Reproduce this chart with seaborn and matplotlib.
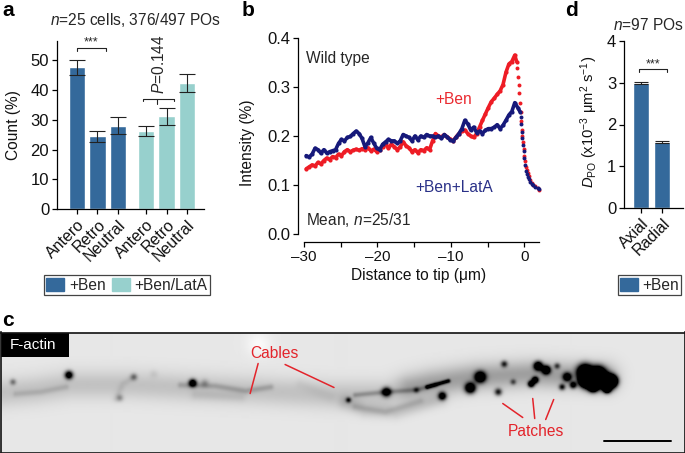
import numpy as np
import matplotlib
matplotlib.use('Agg')
import matplotlib.pyplot as plt
from matplotlib.lines import Line2D
from matplotlib.patches import Patch, Rectangle
import seaborn as sns

# panel a
comptes = [47.6, 24.5, 28.0, 26.3, 31.2, 42.3]
erreurs_comptes = [2.6, 1.8, 2.9, 1.6, 2.9, 3.1]
noms_a = ['Antero', 'Retro', 'Neutral', 'Antero', 'Retro', 'Neutral']

# panel b
x_rouge = [-29.7, -29.3, -28.9, -28.5, -28.1, -27.7, -27.3, -26.9, -26.5, -26.1, -25.7, -25.3, -24.9, -24.5, -24.1,
           -23.7, -23.3, -22.9, -22.5, -22.1, -21.7, -21.3, -20.9, -20.5, -20.1, -19.7, -19.3, -18.9, -18.5, -18.1,
           -17.7, -17.3, -16.9, -16.5, -16.1, -15.7, -15.3, -14.9, -14.5, -14.1, -13.7, -13.3, -12.9, -12.5, -12.1,
           -11.7, -11.3, -10.9, -10.5, -10.1, -9.7, -9.3, -8.9, -8.5, -8.1, -7.7, -7.3, -6.9, -6.5, -6.1,
           -5.7, -5.3, -4.9, -4.5, -4.1, -3.7, -3.3, -2.9, -2.5, -2.1, -1.7, -1.3, -1.05]
y_rouge = [.133, .137, .141, .139, .146, .143, .150, .155, .152, .158, .156, .163, .160, .168, .172,
           .168, .171, .173, .171, .174, .172, .176, .170, .173, .168, .172, .178, .183, .175, .183,
           .178, .172, .178, .188, .180, .176, .168, .172, .166, .172, .170, .176, .172, .190, .205,
           .200, .198, .203, .198, .194, .190, .198, .205, .210, .212, .205, .200, .197, .205, .218,
           .232, .245, .258, .270, .277, .285, .292, .305, .330, .347, .352, .365, .352]
x_bleu = [-29.7, -29.3, -28.9, -28.5, -28.1, -27.7, -27.3, -26.9, -26.5, -26.1, -25.7, -25.3, -24.9, -24.5, -24.1,
          -23.7, -23.3, -22.9, -22.5, -22.1, -21.7, -21.3, -20.9, -20.5, -20.1, -19.7, -19.3, -18.9, -18.5, -18.1,
          -17.7, -17.3, -16.9, -16.5, -16.1, -15.7, -15.3, -14.9, -14.5, -14.1, -13.7, -13.3, -12.9, -12.5, -12.1,
          -11.7, -11.3, -10.9, -10.5, -10.1, -9.7, -9.3, -8.9, -8.5, -8.1, -7.7, -7.3, -6.9, -6.5, -6.1,
          -5.7, -5.3, -4.9, -4.5, -4.1, -3.7, -3.3, -2.9, -2.5, -2.1, -1.7, -1.3, -0.9, -0.6]
y_bleu = [.160, .157, .163, .175, .172, .165, .172, .165, .168, .170, .172, .185, .193, .190, .197,
          .199, .205, .210, .205, .195, .178, .186, .197, .185, .175, .172, .183, .188, .193, .190,
          .190, .185, .190, .203, .200, .197, .190, .200, .192, .200, .197, .203, .200, .200, .197,
          .200, .195, .203, .198, .192, .190, .197, .205, .215, .232, .225, .212, .218, .207, .210,
          .205, .212, .215, .215, .218, .223, .215, .222, .232, .243, .250, .268, .258, .250]
# la descente vers la pointe, points bien separes
x_rouge_fin = [-1.0, -.86, -.77, -.68, -.58, -.5, -.42, -.34, -.26, -.18, -.1, 0, .1, .2, .3, .45, .6, .8, 1.0, 1.2, 1.5, 1.8, 2.0]
y_rouge_fin = [.339, .320, .304, .287, .267, .248, .230, .213, .200, .187, .174, .160, .148, .137, .130, .125, .118, .110, .105, .100, .097, .093, .090]
x_bleu_fin = [-.5, -.42, -.34, -.26, -.18, -.1, 0, .1, .2, .3, .45, .6, .8, 1.0, 1.2, 1.5, 1.8, 2.0]
y_bleu_fin = [.238, .225, .208, .195, .182, .170, .155, .140, .128, .122, .117, .112, .107, .103, .099, .096, .093, .091]

# panel d
coeffs = [2.99, 1.58]
erreurs_coeffs = [.03, .03]
noms_d = ['Axial', 'Radial']

# panel c : micrographie refaite en taches floues (x, y, sigma, force) en pixels de la figure
taches = [(12, 383, 2.2, .4), (68, 376, 2.8, 1.3), (133, 378, 2.4, .38), (119, 399, 2.4, .3), (192, 384, 2.6, 1.4),
          (204, 384, 2.8, .22), (153, 375, 3, .07), (348, 401, 1.9, .75), (386, 393, 3.1, 1.3), (416, 391, 2.0, .45),
          (442, 397, 2.7, 1.3), (470, 389, 3.5, 1.7), (480, 378, 3.7, 1.7), (504, 365, 2.3, .75), (513, 383, 2.0, .5),
          (498, 393, 2.5, .85), (538, 367, 3.0, 1.7), (546, 371, 2.9, 1.7), (531, 385, 2.2, 1.5), (535, 381, 2.2, 1.5),
          (557, 367, 2.1, .6), (567, 378, 3.0, 1.3), (562, 388, 2.2, .85), (573, 386, 2.4, 1.1), (585, 373, 5, 2.5),
          (593, 383, 5, 2.5), (598, 375, 5, 2.5), (607, 383, 5, 2.5), (612, 382, 3.5, 2.5), (607, 390, 2.5, 2),
          (585, 382, 4, 2.5), (593, 388, 3, 2), (258, 345, 9, -.08)]
# (points, sigma, force)
cables = [([(0, 394), (35, 391), (70, 386), (130, 386), (190, 389), (260, 392), (330, 396), (385, 396), (430, 384),
            (475, 378), (530, 375), (605, 378)], 10, .16),
          ([(410, 388), (475, 378), (530, 375), (605, 378)], 9, .15),
          ([(345, 403), (365, 411), (395, 413), (440, 400)], 5, .14),
          ([(15, 395), (40, 393), (65, 388)], 2.2, .10),
          ([(180, 386), (215, 387), (245, 392), (270, 388)], 2.2, .16),
          ([(195, 396), (240, 398)], 3.5, .07),
          ([(115, 400), (122, 385), (133, 378)], 2.4, .07),
          ([(300, 385), (330, 398)], 4, .04),
          ([(355, 396), (386, 393), (416, 391), (435, 386)], 1.9, .22),
          ([(427, 388), (448, 382)], 1.4, .9),
          ([(355, 408), (385, 413), (420, 402)], 2.4, .09)]

LARG, HAUT = 685, 453
BLEU = '#34699b'
TURQ = '#97d0cd'
ROUGE = '#ee1c25'
MARINE = '#16197a'
TAILLE = 11.2

sns.set_theme(style='ticks')
plt.rcParams['font.family'] = ['Liberation Sans', 'DejaVu Sans']
plt.rcParams['mathtext.fontset'] = 'custom'
plt.rcParams['mathtext.rm'] = 'Liberation Sans'
plt.rcParams['mathtext.it'] = 'Liberation Sans:italic'
plt.rcParams['mathtext.default'] = 'regular'
plt.rcParams['font.size'] = TAILLE

fig = plt.figure(figsize=(LARG / 100, HAUT / 100), dpi=100)


def cadre(gauche, droite, haut, bas):
    # axes places en pixels de l'image
    return fig.add_axes([gauche / LARG, 1 - bas / HAUT, (droite - gauche) / LARG, (bas - haut) / HAUT])


def texte(x, y, s, **kw):
    kw.setdefault('fontsize', TAILLE)
    kw.setdefault('ha', 'center')
    kw.setdefault('va', 'center')
    fig.text(x / LARG, 1 - y / HAUT, s, **kw)


def trait(xs, ys, couleur='#222222', lw=.8):
    fig.add_artist(Line2D([x / LARG for x in xs], [1 - y / HAUT for y in ys], color=couleur, lw=lw))


def habiller(ax):
    sns.despine(ax=ax)
    ax.tick_params(axis='both', which='both', length=3.6, width=.9, color='black', pad=2, labelcolor='#111111')
    ax.tick_params(axis='y', labelsize=12)
    ax.tick_params(axis='x', labelsize=11.5)
    for s in ['left', 'bottom']:
        ax.spines[s].set_linewidth(.9)
        ax.spines[s].set_color('black')
    ax.set_xlabel('')
    ax.set_ylabel('')


# --- a ---
ax_a = cadre(57, 204, 40.7, 209)
pos_a = [0, 1, 2, 3.37, 4.37, 5.37]
sns.barplot(x=pos_a, y=comptes, native_scale=True, hue=['a', 'a', 'a', 'b', 'b', 'b'], palette=[BLEU, TURQ],
            width=.81, dodge=False, saturation=1, legend=False, ax=ax_a)
ax_a.errorbar(pos_a, comptes, yerr=erreurs_comptes, fmt='none', ecolor='#222222', elinewidth=.8, capsize=5.8, capthick=.8)
ax_a.set_xlim(-.976, 6.2)
ax_a.set_ylim(0, 56.6)
ax_a.set_yticks([0, 10, 20, 30, 40, 50])
ax_a.set_xticks(pos_a)
ax_a.set_xticklabels(noms_a, rotation=45, ha='right', rotation_mode='anchor')
habiller(ax_a)
ax_a.set_ylabel('Count (%)', fontsize=TAILLE, color='#111111')
ax_a.yaxis.set_label_coords(-36 / 147, .5)

# --- b ---
ax_b = cadre(298, 539, 38, 234)
sns.lineplot(x=x_rouge, y=y_rouge, color=ROUGE, lw=2.6, marker='o', markersize=3, markeredgewidth=0, ax=ax_b, clip_on=False)
sns.scatterplot(x=x_rouge_fin, y=y_rouge_fin, color=ROUGE, s=8, linewidth=0, ax=ax_b, clip_on=False)
sns.lineplot(x=x_bleu, y=y_bleu, color=MARINE, lw=2.6, marker='o', markersize=3, markeredgewidth=0, ax=ax_b, clip_on=False)
sns.scatterplot(x=x_bleu_fin, y=y_bleu_fin, color=MARINE, s=8, linewidth=0, ax=ax_b, clip_on=False)
ax_b.set_xlim(-30.82, 2)
ax_b.set_ylim(0, .4)
ax_b.set_yticks([0, .1, .2, .3, .4])
ax_b.set_yticklabels(['0.0', '0.1', '0.2', '0.3', '0.4'])
ax_b.set_xticks([-30, -20, -10, 0])
ax_b.set_xticklabels(['–30', '–20', '–10', '0'])
ax_b.set_xticks([-25, -15, -5], minor=True)
habiller(ax_b)
ax_b.tick_params(axis='x', labelsize=11)
ax_b.spines['bottom'].set_position(('outward', 5.8))
ax_b.spines['bottom'].set_bounds(-30, 2)
ax_b.set_xlabel('Distance to tip (μm)', fontsize=TAILLE, color='#111111', labelpad=3)
ax_b.set_ylabel('Intensity (%)', fontsize=TAILLE, color='#111111')
ax_b.yaxis.set_label_coords(-43 / 241, (234 - 143) / 196)

# --- d ---
ax_d = cadre(624, 683, 41, 208)
pos_d = [0, 1]
sns.barplot(x=pos_d, y=coeffs, native_scale=True, color=BLEU, width=.78, saturation=1, ax=ax_d)
ax_d.errorbar(pos_d, coeffs, yerr=erreurs_coeffs, fmt='none', ecolor='#222222', elinewidth=.8, capsize=5, capthick=.8)
ax_d.set_xlim(-.81, 2)
ax_d.set_ylim(0, 4)
ax_d.set_yticks([0, 1, 2, 3, 4])
ax_d.set_xticks(pos_d)
ax_d.set_xticklabels(noms_d, rotation=45, ha='right', rotation_mode='anchor')
habiller(ax_d)
ax_d.set_ylabel(r'$\mathit{D}_{PO}$ (x10$^{-3}$ μm$^{2}$ s$^{-1}$)', fontsize=10.6, color='#111111')
ax_d.yaxis.set_label_coords(-24 / 59, (208 - 122) / 167)

# --- c ---
ax_c = cadre(0.5, 684.5, 332.5, 452.5)
yy, xx = np.mgrid[333:453, 0:685] + .5
sombre = np.zeros(xx.shape)
for x0, y0, sig, force in taches:
    sombre += force * np.exp(-((xx - x0) ** 2 + (yy - y0) ** 2) / (2 * sig ** 2))
for points, sig, force in cables:
    dist2 = np.full(xx.shape, np.inf)
    for (x1, y1), (x2, y2) in zip(points[:-1], points[1:]):
        t = ((xx - x1) * (x2 - x1) + (yy - y1) * (y2 - y1)) / ((x2 - x1) ** 2 + (y2 - y1) ** 2)
        t = np.clip(t, 0, 1)
        dist2 = np.minimum(dist2, (xx - x1 - t * (x2 - x1)) ** 2 + (yy - y1 - t * (y2 - y1)) ** 2)
    sombre += force * np.exp(-dist2 / (2 * sig ** 2))
gris = np.clip(.905 * (1 - np.clip(sombre, -1, 1)), 0, 1)
ax_c.imshow(gris, cmap='gray', vmin=0, vmax=1, extent=(0, 685, 453, 333), aspect='auto', interpolation='bilinear')
ax_c.set_xticks([])
ax_c.set_yticks([])
ax_c.set_xlim(0, 685)
ax_c.set_ylim(453, 333)
for s in ax_c.spines.values():
    s.set_visible(True)
    s.set_linewidth(1.2)
    s.set_color('#111111')
ax_c.add_patch(Rectangle((0, 333), 69, 25, color='black', lw=0))
ax_c.text(33, 346, 'F-actin', color='white', fontsize=11, ha='center', va='center')
ax_c.text(274, 354.5, 'Cables', color='#e3242b', fontsize=11.2, ha='center', va='center')
ax_c.text(536, 432, 'Patches', color='#e3242b', fontsize=11.2, ha='center', va='center')
for xs, ys in [((258, 250), (364, 394)), ((285, 334), (365, 388)), ((503, 523), (404, 418)),
               ((533, 535), (399, 419)), ((554, 546), (400, 420))]:
    ax_c.plot(xs, ys, color='#e3242b', lw=1.1)
ax_c.plot([604, 671], [442, 442], color='black', lw=1.4)

# textes libres et crochets
for x, y, s in [(2, 11, 'a'), (242, 11, 'b'), (565, 11, 'd'), (2, 321, 'c')]:
    texte(x, y, s, fontsize=15, fontweight='bold', ha='left', color='black')
texte(135, 20, r'$\mathit{n}$=25 cells, 376/497 POs')
texte(648, 25, r'$\mathit{n}$=97 POs')
texte(306, 58, 'Wild type', ha='left')
texte(306, 220, r'Mean, $\mathit{n}$=25/31', ha='left')
texte(454, 99, '+Ben', color='#ea2a30')
texte(454, 188, '+Ben+LatA', color='#2a3188')
texte(159, 64, r'$\mathit{P}$=0.144', rotation=90)
texte(91, 42, '***', fontsize=9)
texte(653, 64, '***', fontsize=9)
trait([77, 77, 106, 106], [51, 48, 48, 51])
trait([143, 143, 174, 174], [101, 98.7, 98.7, 101])
trait([157, 157], [98.7, 104])
trait([639, 639, 667, 667], [71.5, 69, 69, 71.5])

# legendes
leg_opts = dict(loc='center', frameon=True, fancybox=False, framealpha=1, edgecolor='#444444', fontsize=TAILLE,
                handlelength=1.15, handleheight=.9, handletextpad=.3, columnspacing=.4, borderpad=.15, borderaxespad=0)
leg_a = fig.legend(handles=[Patch(color=BLEU, label='+Ben'), Patch(color=TURQ, label='+Ben/LatA')], ncol=2,
                   bbox_to_anchor=(127 / LARG, 1 - 285 / HAUT), **leg_opts)
leg_d = fig.legend(handles=[Patch(color=BLEU, label='+Ben')], bbox_to_anchor=(649.5 / LARG, 1 - 285 / HAUT), **leg_opts)
for leg in [leg_a, leg_d]:
    leg.get_frame().set_linewidth(.9)

fig.savefig('out.png', dpi=100)
